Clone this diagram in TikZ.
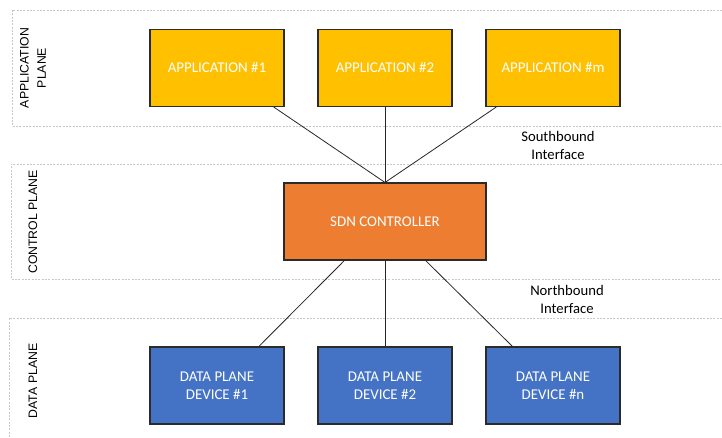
\documentclass[tikz,border=0pt]{standalone}
\usepackage{fontspec}
\setmainfont{Carlito}
\newfontfamily\arialf{Liberation Sans}
\usetikzlibrary{calc}
\definecolor{appc}{HTML}{FFC000}
\definecolor{ctrlc}{HTML}{ED7D31}
\definecolor{dpc}{HTML}{4472C4}
\definecolor{bordc}{HTML}{2B2B2B}
\definecolor{bandc}{HTML}{C8C8C8}
\tikzset{
  box/.style={draw=bordc, line width=0.8pt, text=white, inner sep=0pt,
    minimum width=100.5pt, minimum height=57.75pt, align=center,
    font=\fontsize{11.2}{13.8}\selectfont},
  appbox/.style={box, fill=appc},
  ctrlbox/.style={box, fill=ctrlc, minimum width=151.5pt},
  dpbox/.style={box, fill=dpc},
  band/.style={draw=bandc, line width=0.5pt, dash pattern=on 1.5pt off 1pt},
  planelbl/.style={rotate=90, align=center, font=\arialf\fontsize{9.2}{12.8}\selectfont},
  iflbl/.style={align=center, font=\fontsize{11}{13.5}\selectfont},
  link/.style={draw=black!85, line width=0.6pt}
}
\begin{document}
\begin{tikzpicture}[x=0.75pt,y=-0.75pt]
\useasboundingbox (0,0) rectangle (722,438);
\fill[white] (0,0) rectangle (722,438);
% plane bands
\draw[band] (722,10) -- (12,10) -- (12,126) -- (722,126);
\draw[band] (722,164) -- (11,164) -- (11,279) -- (722,279);
\draw[band] (722,318) -- (9,318) -- (9,438);
% plane labels
\node[planelbl] (lapp) at (33,68) {APPLICATION\\PLANE};
\node[planelbl] (lctrl) at (33,222) {CONTROL PLANE};
\node[planelbl] (ldata) at (33,381) {DATA PLANE};
% application boxes
\node[appbox] (app1) at (217,68) {APPLICATION \#1};
\node[appbox] (app2) at (385,68) {APPLICATION \#2};
\node[appbox] (appm) at (553,68) {APPLICATION \#m};
% controller
\node[ctrlbox] (ctrl) at (385,221.5) {SDN CONTROLLER};
% data plane devices
\node[dpbox] (dp1) at (217,385.5) {DATA PLANE\\DEVICE \#1};
\node[dpbox] (dp2) at (385,385.5) {DATA PLANE\\DEVICE \#2};
\node[dpbox] (dpn) at (553,385.5) {DATA PLANE\\DEVICE \#n};
% interface labels
\node[iflbl] (sb) at (558,145) {Southbound\\Interface};
\node[iflbl] (nb) at (567,299) {Northbound\\Interface};
% links
\draw[link] ($(app1.south west)!0.92!(app1.south east)$) -- (ctrl.north);
\draw[link] (app2.south) -- (ctrl.north);
\draw[link] ($(appm.south west)!0.08!(appm.south east)$) -- (ctrl.north);
\draw[link] ($(ctrl.south west)!0.30!(ctrl.south east)$) -- ($(dp1.north west)!0.81!(dp1.north east)$);
\draw[link] (ctrl.south) -- (dp2.north);
\draw[link] ($(ctrl.south west)!0.70!(ctrl.south east)$) -- ($(dpn.north west)!0.20!(dpn.north east)$);
\end{tikzpicture}
\end{document}
